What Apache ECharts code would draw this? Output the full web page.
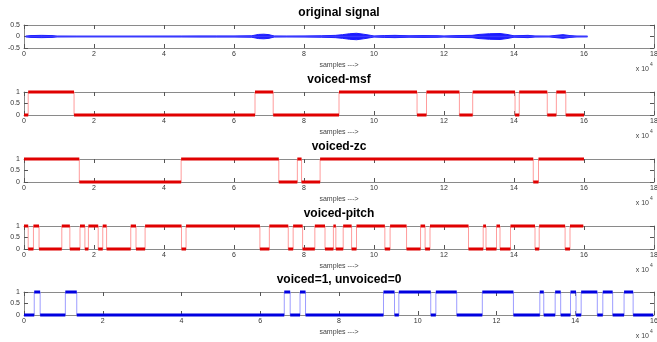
<!DOCTYPE html>
<html>
<head>
<meta charset="UTF-8">
<title>voiced / unvoiced</title>
<script src="https://cdn.jsdelivr.net/npm/echarts@6/dist/echarts.min.js"></script>
<style>
    *{margin:0;padding:0;}
    body{background:#fff;overflow:hidden;}
    #main{width:657px;height:342px;}
</style>
</head>
<body>
<div id="main"></div>
<script>
// x values are in units of 10^4 samples
// original signal: envelope (amplitude around 0)
var sigX   = [0.05, 0.2, 0.5, 0.8, 0.95, 1.5, 3.0, 4.5, 5.0, 5.5, 6.0, 6.5, 6.7, 6.85, 7.0, 7.15, 7.5, 8.0, 8.5, 8.9, 9.1, 9.3, 9.5, 9.7, 9.9, 10.0, 10.3, 10.6, 11.0, 11.4, 11.8, 12.0, 12.4, 12.8, 13.0, 13.3, 13.6, 13.8, 14.0, 14.2, 14.4, 14.6, 15.0, 15.2, 15.4, 15.6, 15.8, 16.1];
var sigAmp = [0.015, 0.04, 0.05, 0.04, 0.015, 0.012, 0.012, 0.015, 0.02, 0.02, 0.02, 0.03, 0.09, 0.1, 0.08, 0.02, 0.015, 0.02, 0.03, 0.05, 0.08, 0.12, 0.14, 0.1, 0.05, 0.02, 0.04, 0.05, 0.03, 0.04, 0.035, 0.02, 0.04, 0.05, 0.09, 0.12, 0.13, 0.09, 0.03, 0.04, 0.05, 0.02, 0.015, 0.05, 0.08, 0.04, 0.015, 0.012];

// step signals: segment edges and the 0/1 state of each segment
var msfEdges  = [0, 0.12, 1.43, 6.6, 7.12, 9.0, 11.23, 11.5, 12.44, 12.82, 14.03, 14.15, 14.95, 15.21, 15.48, 16.0];
var msfStates = [0, 1, 0, 1, 0, 1, 0, 1, 0, 1, 0, 1, 0, 1, 0];

var zcEdges  = [0, 1.58, 4.49, 7.28, 7.81, 7.93, 8.46, 14.55, 14.7, 16.0];
var zcStates = [1, 0, 1, 0, 1, 0, 1, 0, 1];

var pitchEdges  = [0, 0.12, 0.27, 0.43, 1.08, 1.31, 1.6, 1.74, 1.84, 2.12, 2.25, 2.36, 3.05, 3.2, 3.46, 4.5, 4.63, 6.74, 7.01, 7.55, 7.69, 7.96, 8.31, 8.6, 8.84, 8.91, 9.12, 9.36, 9.5, 10.31, 10.46, 10.93, 11.33, 11.46, 11.6, 12.7, 13.12, 13.2, 13.5, 13.6, 13.9, 14.6, 14.72, 15.46, 15.6, 15.98];
var pitchStates = [1, 0, 1, 0, 1, 0, 1, 0, 1, 0, 1, 0, 1, 0, 1, 0, 1, 0, 1, 0, 1, 0, 1, 0, 1, 0, 1, 0, 1, 0, 1, 0, 1, 0, 1, 0, 1, 0, 1, 0, 1, 0, 1, 0, 1];

var finalEdges  = [0, 0.26, 0.41, 1.05, 1.34, 6.61, 6.76, 7.01, 7.15, 9.13, 9.41, 9.52, 10.33, 10.46, 10.99, 11.64, 12.43, 13.1, 13.2, 13.49, 13.63, 13.88, 14.02, 14.15, 14.56, 14.7, 14.95, 15.24, 15.47, 15.98];
var finalStates = [0, 1, 0, 1, 0, 1, 0, 1, 0, 1, 0, 1, 0, 1, 0, 1, 0, 1, 0, 1, 0, 1, 0, 1, 0, 1, 0, 1, 0];

var FONT = '"Liberation Sans", Arial, sans-serif';

var panels = [
    {title: 'original signal', top: 25, xMax: 18, yMin: -0.5, yMax: 0.5},
    {title: 'voiced-msf', top: 92, xMax: 18, yMin: 0, yMax: 1, edges: msfEdges, states: msfStates, thick: '#e00000', thin: '#ff9c9c'},
    {title: 'voiced-zc', top: 159, xMax: 18, yMin: 0, yMax: 1, edges: zcEdges, states: zcStates, thick: '#e00000', thin: '#ff9c9c'},
    {title: 'voiced-pitch', top: 226, xMax: 18, yMin: 0, yMax: 1, edges: pitchEdges, states: pitchStates, thick: '#e00000', thin: '#ff9c9c'},
    {title: 'voiced=1, unvoiced=0', top: 292, xMax: 16, yMin: 0, yMax: 1, edges: finalEdges, states: finalStates, thick: '#0000e0', thin: '#9c9cff'}
];
var LEFT = 24, WIDTH = 630, H = 23, CX = 339;

var grids = [], xAxes = [], yAxes = [], series = [], texts = [];

function stepLine(edges, states) {
    var d = [];
    for (var i = 0; i < states.length; i++) {
        d.push([edges[i], states[i]]);
        d.push([edges[i + 1], states[i]]);
    }
    return d;
}
function flatParts(edges, states) {
    var d = [];
    for (var i = 0; i < states.length; i++) {
        d.push([edges[i], states[i]]);
        d.push([edges[i + 1], states[i]]);
        d.push(null);
    }
    return d;
}

panels.forEach(function (p, i) {
    grids.push({left: LEFT, top: p.top, width: WIDTH, height: H, containLabel: false, outerBoundsMode: 'none'});
    var xBase = {
        type: 'value', gridIndex: i, min: 0, max: p.xMax, interval: 2,
        axisLine: {show: true, onZero: false, lineStyle: {color: '#8a8a8a', width: 1}},
        axisTick: {show: true, inside: true, length: 4, lineStyle: {color: '#555'}},
        splitLine: {show: false}
    };
    xAxes.push(Object.assign({}, xBase, {
        position: 'bottom',
        axisLabel: {show: true, margin: 3, fontSize: 7, color: '#333', fontFamily: FONT}
    }));
    xAxes.push(Object.assign({}, xBase, {position: 'top', axisLabel: {show: false}}));
    var yBase = {
        type: 'value', gridIndex: i, min: p.yMin, max: p.yMax, interval: 0.5,
        axisLine: {show: true, onZero: false, lineStyle: {color: '#8a8a8a', width: 1}},
        axisTick: {show: true, inside: true, length: 4, lineStyle: {color: '#555'}},
        splitLine: {show: false}
    };
    yAxes.push(Object.assign({}, yBase, {
        position: 'left',
        axisLabel: {show: true, margin: 4, fontSize: 7, color: '#333', fontFamily: FONT}
    }));
    yAxes.push(Object.assign({}, yBase, {position: 'right', axisLabel: {show: false}}));

    if (i === 0) {
        var upper = [], lower = [];
        for (var k = 0; k < sigX.length; k++) {
            upper.push([sigX[k], sigAmp[k]]);
            lower.push([sigX[k], -sigAmp[k]]);
        }
        [upper, lower].forEach(function (d) {
            series.push({
                type: 'line', xAxisIndex: 0, yAxisIndex: 0, data: d,
                showSymbol: false, clip: false, silent: true,
                lineStyle: {color: '#1a1aff', width: 1},
                areaStyle: {color: '#1a1aff', opacity: 1}
            });
        });
        series.push({
            type: 'line', xAxisIndex: 0, yAxisIndex: 0,
            data: [[sigX[0], 0], [sigX[sigX.length - 1], 0]],
            showSymbol: false, clip: false, silent: true,
            lineStyle: {color: '#3a3aff', width: 1.5}
        });
    } else {
        series.push({
            type: 'line', xAxisIndex: 2 * i, yAxisIndex: 2 * i,
            data: stepLine(p.edges, p.states),
            showSymbol: false, clip: false, silent: true, z: 2,
            lineStyle: {color: p.thin, width: 1}
        });
        series.push({
            type: 'line', xAxisIndex: 2 * i, yAxisIndex: 2 * i,
            data: flatParts(p.edges, p.states),
            showSymbol: false, clip: false, silent: true, z: 3,
            lineStyle: {color: p.thick, width: 3}
        });
    }

    var bottom = p.top + H;
    texts.push({type: 'text', x: CX, y: p.top - 12, silent: true,
        style: {text: p.title, font: 'bold 12px ' + FONT, fill: '#000', align: 'center', verticalAlign: 'middle'}});
    texts.push({type: 'text', x: CX, y: bottom + 17, silent: true,
        style: {text: 'samples --->', font: '7px ' + FONT, fill: '#444', align: 'center', verticalAlign: 'middle'}});
    texts.push({type: 'text', x: 649, y: bottom + 21, silent: true,
        style: {text: 'x 10', font: '7px ' + FONT, fill: '#444', align: 'right', verticalAlign: 'middle'}});
    texts.push({type: 'text', x: 650, y: bottom + 17, silent: true,
        style: {text: '4', font: '5px ' + FONT, fill: '#444', align: 'left', verticalAlign: 'middle'}});
});

var myChart = echarts.init(document.getElementById('main'));
myChart.setOption({
    animation: false,
    backgroundColor: '#fff',
    grid: grids,
    xAxis: xAxes,
    yAxis: yAxes,
    series: series,
    graphic: texts
});
</script>
</body>
</html>
